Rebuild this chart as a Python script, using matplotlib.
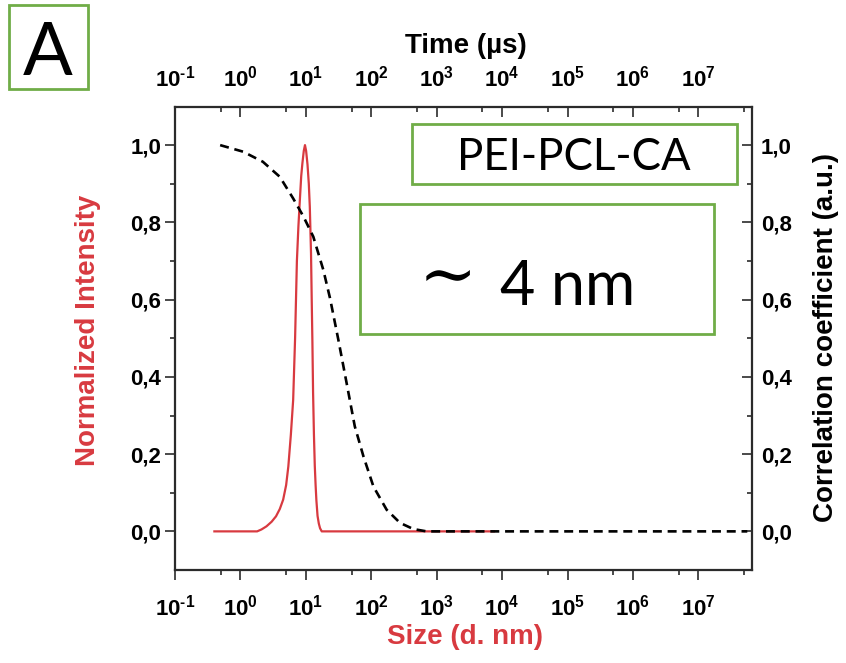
import matplotlib
matplotlib.use("Agg")
import matplotlib.pyplot as plt
from matplotlib.patches import Rectangle
from matplotlib.ticker import FixedLocator, FixedFormatter, NullFormatter

# Size distribution by intensity (hydrodynamic diameter, nm)
size_nm = [0.4, 1.8, 2.1, 2.5, 3.0, 3.5, 4.0, 4.5, 5.0, 5.4, 5.9, 6.4, 6.85,
           7.3, 7.7, 8.15, 8.5, 8.86, 9.3, 9.7, 10.1, 10.6, 11.1, 11.5, 12.0,
           12.3, 12.6, 12.9, 13.3, 13.7, 14.1, 14.5, 15.1, 15.8, 16.5, 17.5, 7500]
intensity = [0, 0, 0.005, 0.013, 0.025, 0.039, 0.058, 0.082, 0.12, 0.168, 0.25,
             0.34, 0.50, 0.70, 0.79, 0.866, 0.92, 0.953, 0.985, 1.0, 0.985, 0.95,
             0.90, 0.84, 0.72, 0.60, 0.49, 0.36, 0.25, 0.17, 0.12, 0.08, 0.04,
             0.02, 0.008, 0, 0]

# Correlation function vs delay time (us)
tau_us = [0.49, 1.1, 2.2, 4.0, 6.4, 9.2, 13, 18.5, 23.4, 31.4, 42, 56, 76,
          108, 172, 275, 440, 700, 5.6e7]
corr = [1.0, 0.983, 0.957, 0.918, 0.862, 0.815, 0.763, 0.677, 0.604, 0.496,
        0.384, 0.272, 0.194, 0.116, 0.056, 0.022, 0.006, 0.0, 0.0]

x_major = [1e-1, 1e0, 1e1, 1e2, 1e3, 1e4, 1e5, 1e6, 1e7]
x_tick_labels = [r"$10^{\text{-}1}$", r"$10^{0}$", r"$10^{1}$", r"$10^{2}$",
                 r"$10^{3}$", r"$10^{4}$", r"$10^{5}$", r"$10^{6}$", r"$10^{7}$"]
x_minor = [5e-1, 5e0, 5e1, 5e2, 5e3, 5e4, 5e5, 5e6, 5e7]
y_major = [0.0, 0.2, 0.4, 0.6, 0.8, 1.0]
y_tick_labels = ["0,0", "0,2", "0,4", "0,6", "0,8", "1,0"]
y_minor = [0.1, 0.3, 0.5, 0.7, 0.9]

RED = "#d83a40"
GREEN = "#70AD47"
AXC = "#2b2b2b"

plt.rcParams["font.family"] = ["Liberation Sans", "DejaVu Sans"]
plt.rcParams["font.weight"] = "bold"
plt.rcParams["mathtext.fontset"] = "custom"
plt.rcParams["mathtext.rm"] = "Liberation Sans:bold"
plt.rcParams["mathtext.it"] = "Liberation Sans:bold"
plt.rcParams["mathtext.bf"] = "Liberation Sans:bold"
plt.rcParams["mathtext.default"] = "regular"

W, H = 846, 663
fig = plt.figure(figsize=(W / 100, H / 100), dpi=100)
fig.patch.set_facecolor("white")

L, R, T, B = 175, 752, 106.5, 570
rect = [L / W, 1 - B / H, (R - L) / W, (B - T) / H]
ax = fig.add_axes(rect)
ax_t = fig.add_axes(rect, frameon=False)

XLIM = (1e-1, 10 ** 7.82)
YLIM = (-0.1, 1.1)
for a in (ax, ax_t):
    a.set_xscale("log")
    a.set_xlim(*XLIM)
    a.set_ylim(*YLIM)
    a.xaxis.set_major_locator(FixedLocator(x_major))
    a.xaxis.set_major_formatter(FixedFormatter(x_tick_labels))
    a.xaxis.set_minor_locator(FixedLocator(x_minor))
    a.xaxis.set_minor_formatter(NullFormatter())
    a.yaxis.set_major_locator(FixedLocator(y_major))
    a.yaxis.set_major_formatter(FixedFormatter(y_tick_labels))
    a.yaxis.set_minor_locator(FixedLocator(y_minor))

ax_t.patch.set_visible(False)
ax_t.xaxis.tick_top()
ax_t.yaxis.tick_right()

for s in ax.spines.values():
    s.set_linewidth(1.6)
    s.set_color(AXC)

tick_font = 16
ax.tick_params(axis="x", which="major", direction="out", length=7, width=1.2,
               color=AXC, labelsize=tick_font, pad=11, top=False)
ax.tick_params(axis="x", which="minor", direction="out", length=3.8, width=1.2,
               color=AXC, top=False)
ax.tick_params(axis="y", which="major", direction="out", length=7, width=1.2,
               color=AXC, labelsize=tick_font, pad=3, right=False)
ax.tick_params(axis="y", which="minor", direction="out", length=3.8, width=1.2,
               color=AXC, right=False)

ax_t.tick_params(axis="x", which="major", direction="in", length=7, width=1.2,
                 color=AXC, labelsize=tick_font, pad=11, bottom=False,
                 labelbottom=False, top=True, labeltop=True)
ax_t.tick_params(axis="x", which="minor", direction="in", length=3.8, width=1.2,
                 color=AXC, bottom=False, top=True)
ax_t.tick_params(axis="y", which="major", direction="in", length=7, width=1.2,
                 color=AXC, labelsize=tick_font, pad=6.5, left=False,
                 labelleft=False, right=True, labelright=True)
ax_t.tick_params(axis="y", which="minor", direction="in", length=3.8, width=1.2,
                 color=AXC, left=False, right=True)

for lab in ax.get_xticklabels() + ax.get_yticklabels() + \
        ax_t.get_xticklabels() + ax_t.get_yticklabels():
    lab.set_fontweight("bold")

# curves
ax.plot(size_nm, intensity, color=RED, lw=1.6, zorder=3)
ax_t.plot(tau_us, corr, color="black", lw=1.9, dashes=(3.4, 2.2), zorder=3)

# axis titles
lab_font = 20
ax.set_xlabel("Size (d. nm)", color=RED, fontsize=lab_font, fontweight="bold")
ax.xaxis.set_label_coords((465 - L) / (R - L), (B - 637) / (B - T))
ax.xaxis.label.set_va("center")
ax.set_ylabel("Normalized Intensity", color=RED, fontsize=lab_font, fontweight="bold")
ax.yaxis.set_label_coords((88 - L) / (R - L), (B - 330) / (B - T))
ax.yaxis.label.set_va("center")

ax_t.set_xlabel("Time (\u00b5s)", color="black", fontsize=lab_font, fontweight="bold")
ax_t.xaxis.set_label_position("top")
ax_t.xaxis.set_label_coords((466 - L) / (R - L), (B - 46) / (B - T))
ax_t.xaxis.label.set_va("center")
ax_t.set_ylabel("Correlation coefficient (a.u.)", color="black", fontsize=lab_font,
                fontweight="bold")
ax_t.yaxis.set_label_position("right")
ax_t.yaxis.set_label_coords((826 - L) / (R - L), (B - 338) / (B - T))
ax_t.yaxis.label.set_va("center")

# annotation boxes (pixel geometry in figure fraction)
def px_box(x0, y0, x1, y1):
    r = Rectangle((x0 / W, 1 - y1 / H), (x1 - x0) / W, (y1 - y0) / H,
                  transform=fig.transFigure, facecolor="white", edgecolor=GREEN,
                  linewidth=2.0, zorder=10)
    fig.add_artist(r)

box_font = ["Lato", "DejaVu Sans"]

px_box(8.5, 4.5, 87.5, 89)
fig.text(48 / W, 1 - 75 / H, "A", ha="center", va="baseline", fontsize=53,
         family=box_font, fontweight="normal", color="black", zorder=11)

px_box(411.5, 124, 737, 183.5)
fig.text(574 / W, 1 - 170 / H, "PEI-PCL-CA", ha="center", va="baseline",
         fontsize=31.5, family=box_font, fontweight="normal", color="black",
         zorder=11)

px_box(359.5, 204, 714, 333.5)
fig.text(448 / W, 1 - 297 / H, "\u223c", ha="center", va="baseline",
         fontsize=50, family=["DejaVu Serif"], fontweight="normal",
         color="black", zorder=11)
fig.text(500 / W, 1 - 305.5 / H, "4 nm", ha="left", va="baseline",
         fontsize=44, family=box_font, fontweight="normal", color="black",
         zorder=11)

fig.savefig("out.png", dpi=100, facecolor="white")
